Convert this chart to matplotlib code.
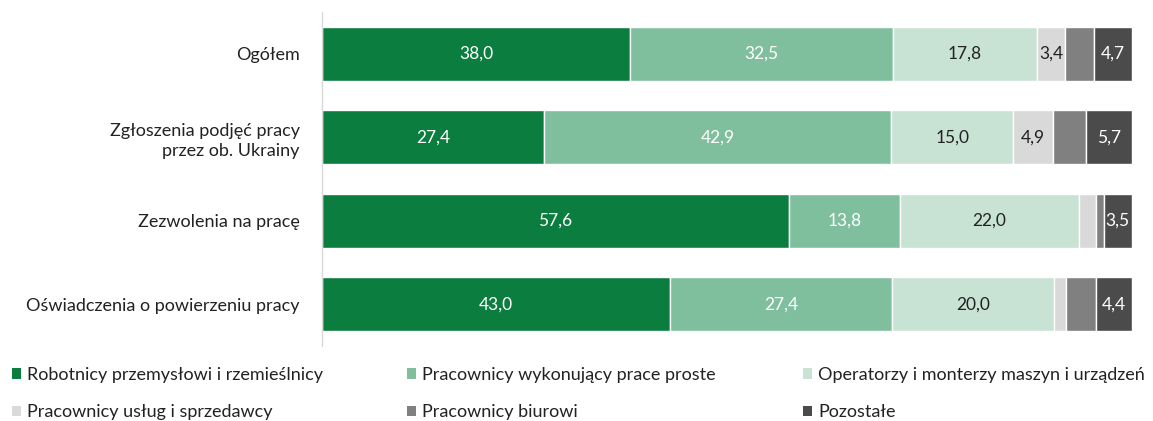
import matplotlib
matplotlib.use("Agg")
import matplotlib.pyplot as plt
from matplotlib.patches import Patch

plt.rcParams['font.family'] = ['Lato', 'DejaVu Sans']

categories = ["Ogółem", "Zgłoszenia podjęć pracy\nprzez ob. Ukrainy",
              "Zezwolenia na pracę", "Oświadczenia o powierzeniu pracy"]
series_names = ["Robotnicy przemysłowi i rzemieślnicy",
                "Pracownicy wykonujący prace proste",
                "Operatorzy i monterzy maszyn i urządzeń",
                "Pracownicy usług i sprzedawcy",
                "Pracownicy biurowi",
                "Pozostałe"]
robotnicy = [38.0, 27.4, 57.6, 43.0]
proste = [32.5, 42.9, 13.8, 27.4]
operatorzy = [17.8, 15.0, 22.0, 20.0]
uslugi = [3.4, 4.9, 2.1, 1.5]
biurowi = [3.6, 4.1, 1.0, 3.7]
pozostale = [4.7, 5.7, 3.5, 4.4]
series = [robotnicy, proste, operatorzy, uslugi, biurowi, pozostale]
labelled = [True, True, True, True, False, True]

colors = ["#0B7D3E", "#7FBF9E", "#C8E3D4", "#D9D9D9", "#808080", "#4B4B4B"]
text_colors = ["white", "white", "#222222", "#222222", "white", "white"]

fig = plt.figure(figsize=(11.53, 4.21), dpi=100)
ax = fig.add_axes([322/1153, 1-346/421, (1132-322)/1153, (346-12)/421])

y = list(range(len(categories)))
left = [0.0]*len(categories)
for s, vals in enumerate(series):
    ax.barh(y, vals, left=left, height=0.65, color=colors[s],
            edgecolor="white", linewidth=1.0)
    for i, v in enumerate(vals):
        if labelled[s] and v >= 3:
            ax.text(left[i] + v/2, y[i], f"{v:.1f}".replace(".", ","),
                    ha="center", va="center", fontsize=12.5,
                    color=text_colors[s])
    left = [l + v for l, v in zip(left, vals)]

ax.set_xlim(0, 100)
ax.set_ylim(len(categories) - 0.5, -0.5)
ax.set_yticks(y)
ax.set_yticklabels(categories, fontsize=13, color="#222222", linespacing=1.35)
ax.tick_params(axis="y", length=0, pad=16)
ax.set_xticks([])
for sp in ["top", "right", "bottom"]:
    ax.spines[sp].set_visible(False)
ax.spines["left"].set_color("#D9D9D9")
ax.spines["left"].set_linewidth(1.0)

cols_x = [12/1153, 407/1153, 803/1153]
for c in range(3):
    handles = [Patch(facecolor=colors[c]), Patch(facecolor=colors[c+3])]
    labels = [series_names[c], series_names[c+3]]
    fig.legend(handles, labels, loc="upper left",
               bbox_to_anchor=(cols_x[c], 1-367/421), frameon=False,
               fontsize=13, handlelength=0.5, handleheight=0.5,
               handletextpad=0.35, labelspacing=1.17, borderaxespad=0,
               borderpad=0, labelcolor="#222222")

fig.savefig("out.png", dpi=100)
